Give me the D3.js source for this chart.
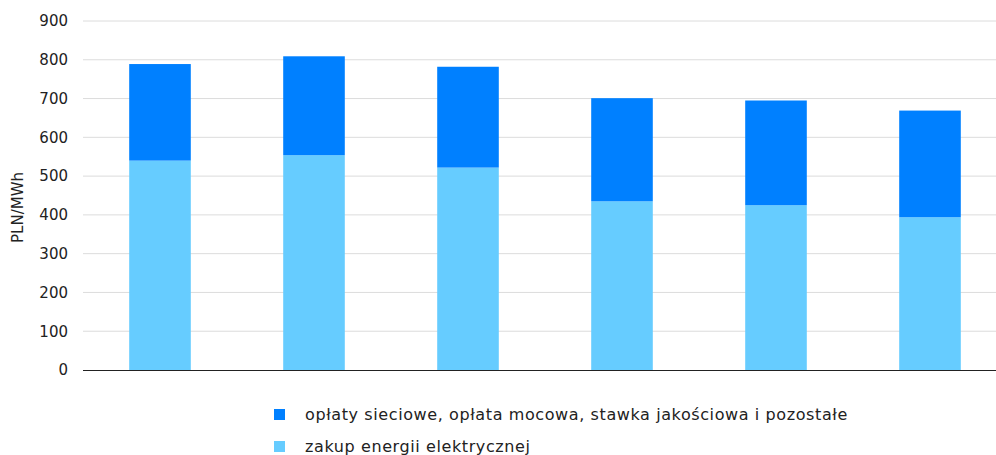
<!DOCTYPE html>
<html>
<head>
<meta charset="utf-8">
<script src="https://cdn.jsdelivr.net/npm/d3@7"></script>
<style>
  html, body { margin: 0; padding: 0; background: #fff; }
  svg { display: block; font-family: "DejaVu Sans", "Noto Sans", sans-serif; }
</style>
</head>
<body>
<svg id="chart" width="996" height="455"></svg>
<script>
// Periods (not labelled on the axis)
const categories = ["1", "2", "3", "4", "5", "6"];
// Purchase of electricity, PLN/MWh
const energyValues = [540, 554, 522, 435, 425, 394];
// Grid fees, capacity fee, quality rate and other, PLN/MWh
const networkValues = [249, 255, 260, 266, 270, 275];
const yTicks = [0, 100, 200, 300, 400, 500, 600, 700, 800, 900];
const seriesNames = [
  "opłaty sieciowe, opłata mocowa, stawka jakościowa i pozostałe",
  "zakup energii elektrycznej"
];
const seriesColors = ["#0080FF", "#66CCFF"];

const svg = d3.select("#chart");
const plot = { left: 83, right: 1007, top: 21, bottom: 370 };

const x = d3.scaleBand().domain(categories).range([plot.left, plot.right])
  .paddingInner(0.6).paddingOuter(0.3);
const y = d3.scaleLinear().domain([0, 900]).range([plot.bottom, plot.top]);

// Horizontal gridlines
svg.append("g").selectAll("line").data(yTicks.filter(d => d > 0)).join("line")
  .attr("x1", plot.left).attr("x2", 996)
  .attr("y1", d => y(d)).attr("y2", d => y(d))
  .attr("stroke", "#dcdcdc").attr("stroke-width", 1);

// Y axis labels
const yAxis = d3.axisLeft(y).tickValues(yTicks).tickSize(0).tickPadding(15);
const gy = svg.append("g").attr("transform", `translate(${plot.left},0)`).call(yAxis);
gy.select(".domain").remove();
gy.selectAll("text").attr("font-size", 15).attr("fill", "#222")
  .attr("font-family", "'DejaVu Sans', sans-serif");

// Stacked bars
const rows = categories.map((c, i) => ({ cat: c, energy: energyValues[i], network: networkValues[i] }));
const stack = d3.stack().keys(["energy", "network"])(rows);
const colorByKey = { energy: seriesColors[1], network: seriesColors[0] };

svg.append("g").selectAll("g").data(stack).join("g")
  .attr("fill", d => colorByKey[d.key])
  .selectAll("rect").data(d => d).join("rect")
  .attr("x", d => x(d.data.cat))
  .attr("width", x.bandwidth())
  .attr("y", d => y(d[1]))
  .attr("height", d => y(d[0]) - y(d[1]));

// Baseline
svg.append("line").attr("x1", plot.left).attr("x2", 996)
  .attr("y1", y(0) + 0.5).attr("y2", y(0) + 0.5)
  .attr("stroke", "#222").attr("stroke-width", 1.2);

// Y axis title
svg.append("text")
  .attr("transform", `translate(23,${(plot.top + plot.bottom) / 2 + 12}) rotate(-90)`)
  .attr("text-anchor", "middle")
  .attr("font-size", 15).attr("fill", "#222")
  .text("PLN/MWh");

// Legend
const legend = svg.append("g").selectAll("g").data(seriesNames).join("g")
  .attr("transform", (d, i) => `translate(274,${409 + i * 32})`);
legend.append("rect").attr("width", 11).attr("height", 11)
  .attr("fill", (d, i) => seriesColors[i]);
legend.append("text").attr("x", 31).attr("y", 11)
  .attr("font-size", 16).attr("letter-spacing", 0.6).attr("fill", "#222")
  .text(d => d);
</script>
</body>
</html>
